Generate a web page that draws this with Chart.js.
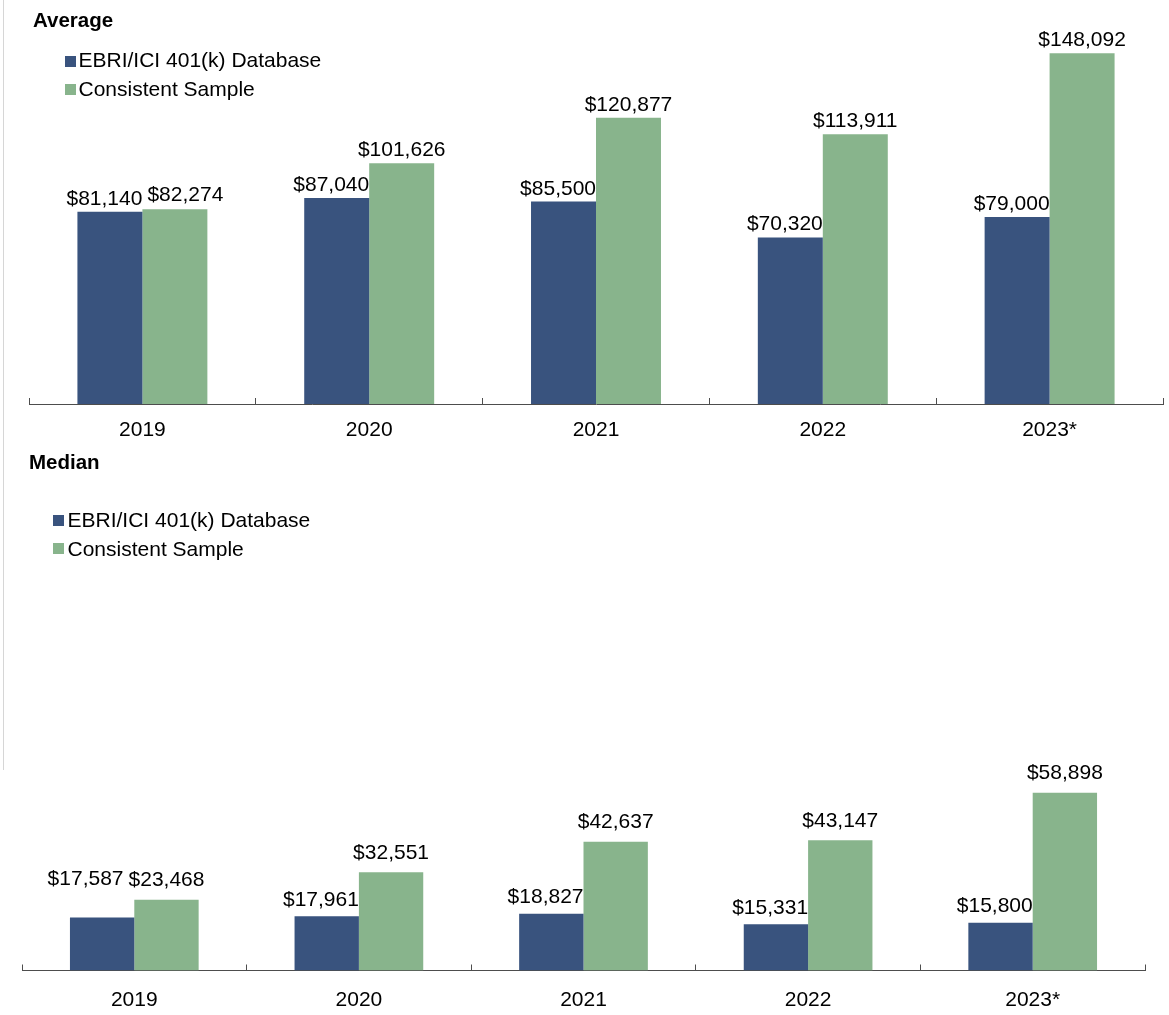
<!DOCTYPE html>
<html>
<head>
<meta charset="utf-8">
<script src="https://cdn.jsdelivr.net/npm/chart.js@4.4.1/dist/chart.umd.min.js"></script>
<style>
  html, body { margin: 0; padding: 0; background: #fff; overflow: hidden; }
  body { width: 1169px; height: 1015px; position: relative; font-family: "Liberation Sans", Arial, sans-serif; }
  .abs { position: absolute; white-space: nowrap; line-height: 24px; font-size: 21px; color: #000; }
  .title { font-weight: bold; font-size: 20.5px; }
  .box { position: absolute; width: 11px; height: 11px; }
  #c1 { position: absolute; left: 0; top: 0; }
  #c2 { position: absolute; left: 0; top: 450px; }
  #vline { position: absolute; left: 3px; top: 0; width: 1px; height: 770px; background: #d6d6d6; }
</style>
</head>
<body>
<div id="vline"></div>
<canvas id="c1" width="1169" height="450"></canvas>
<canvas id="c2" width="1169" height="565"></canvas>

<div class="abs title" style="left:33px;top:7.7px;">Average</div>
<div class="box" id="lgA0" style="left:65px;top:56px;"></div>
<div class="abs" style="left:78.5px;top:48px;" id="lgA0t"></div>
<div class="box" id="lgA1" style="left:65px;top:84px;"></div>
<div class="abs" style="left:78.5px;top:76.5px;" id="lgA1t"></div>

<div class="abs title" style="left:29px;top:449.7px;">Median</div>
<div class="box" id="lgM0" style="left:53px;top:515px;"></div>
<div class="abs" style="left:67.5px;top:508px;" id="lgM0t"></div>
<div class="box" id="lgM1" style="left:53px;top:543px;"></div>
<div class="abs" style="left:67.5px;top:536.5px;" id="lgM1t"></div>

<script>
// ---- Data ----
const categories = ['2019', '2020', '2021', '2022', '2023*'];
const seriesNames = ['EBRI/ICI 401(k) Database', 'Consistent Sample'];
const averageDatabase = [81140, 87040, 85500, 70320, 79000];
const averageConsistent = [82274, 101626, 120877, 113911, 148092];
const medianDatabase = [17587, 17961, 18827, 15331, 15800];
const medianConsistent = [23468, 32551, 42637, 43147, 58898];

// ---- Styles ----
const BLUE = '#39537e';
const GREEN = '#88b48c';
const AXIS = '#4d4d4d';
const FONT = '"Liberation Sans", Arial, sans-serif';
const FS = 21;

for (const [id, col, name] of [['lgA0', BLUE, 0], ['lgA1', GREEN, 1], ['lgM0', BLUE, 0], ['lgM1', GREEN, 1]]) {
  document.getElementById(id).style.background = col;
  document.getElementById(id + 't').textContent = seriesNames[name];
}

const fmt = v => '$' + v.toLocaleString('en-US');

const barLabels = {
  id: 'barLabels',
  afterDatasetsDraw(chart, args, opts) {
    const ctx = chart.ctx;
    ctx.save();
    ctx.font = FS + 'px ' + FONT;
    ctx.fillStyle = '#000';
    ctx.textBaseline = 'alphabetic';
    ctx.textAlign = 'left';
    const m0 = chart.getDatasetMeta(0), m1 = chart.getDatasetMeta(1);
    const d0 = chart.data.datasets[0].data, d1 = chart.data.datasets[1].data;
    m0.data.forEach((b0, i) => {
      const b1 = m1.data[i];
      const t0 = fmt(d0[i]), t1 = fmt(d1[i]);
      const w0 = ctx.measureText(t0).width, w1 = ctx.measureText(t1).width;
      let l0 = b0.x + b0.width / 2 - w0;
      let y0 = b0.y - opts.gap0;
      let l1 = b1.x - w1 / 2;
      let y1 = b1.y - opts.gap1;
      const hOverlap = l0 + w0 + opts.minGap > l1;
      const vOverlap = Math.abs(y0 - y1) < 24;
      if (hOverlap && vOverlap) {
        if (opts.yieldIndex === 1) {
          l1 = l0 + w0 + opts.minGap;
          y1 = Math.min(y1, y0 - 4);
        } else {
          l0 = l1 - opts.minGap - w0;
          y0 = Math.min(y0, y1 - 1);
        }
      }
      ctx.fillText(t0, l0, y0);
      ctx.fillText(t1, l1, y1);
    });
    ctx.restore();
  }
};

function makeChart(id, d0, d1, yMax, padding, labelOpts) {
  return new Chart(document.getElementById(id), {
    type: 'bar',
    data: {
      labels: categories,
      datasets: [
        { label: seriesNames[0], data: d0, backgroundColor: BLUE, borderWidth: 0 },
        { label: seriesNames[1], data: d1, backgroundColor: GREEN, borderWidth: 0 }
      ]
    },
    options: {
      responsive: false,
      animation: false,
      devicePixelRatio: 1,
      layout: { padding },
      datasets: { bar: { categoryPercentage: 0.573, barPercentage: 1 } },
      plugins: {
        legend: { display: false },
        title: { display: false },
        tooltip: { enabled: false },
        barLabels: labelOpts
      },
      scales: {
        x: {
          offset: true,
          border: { display: true, color: AXIS, width: 1 },
          grid: { display: true, offset: true, drawOnChartArea: false, drawTicks: true, tickLength: -6, color: AXIS, lineWidth: 1 },
          ticks: { color: '#000', font: { family: FONT, size: FS }, padding: labelOpts.tickPad, maxRotation: 0, autoSkip: false },
          afterFit: s => { s.height = 40; }
        },
        y: { display: false, min: 0, max: yMax }
      }
    },
    plugins: [barLabels]
  });
}

makeChart('c1', averageDatabase, averageConsistent, 160000,
  { left: 29, right: 6, top: 25.1, bottom: 6 },
  { gap0: 7, gap1: 7, minGap: 5, yieldIndex: 1, tickPad: 20 });

makeChart('c2', medianDatabase, medianConsistent, 70000,
  { left: 22, right: 24, top: 309.2, bottom: 4.5 },
  { gap0: 10.5, gap1: 13.5, minGap: 5, yieldIndex: 0, tickPad: 23 });
</script>
</body>
</html>
